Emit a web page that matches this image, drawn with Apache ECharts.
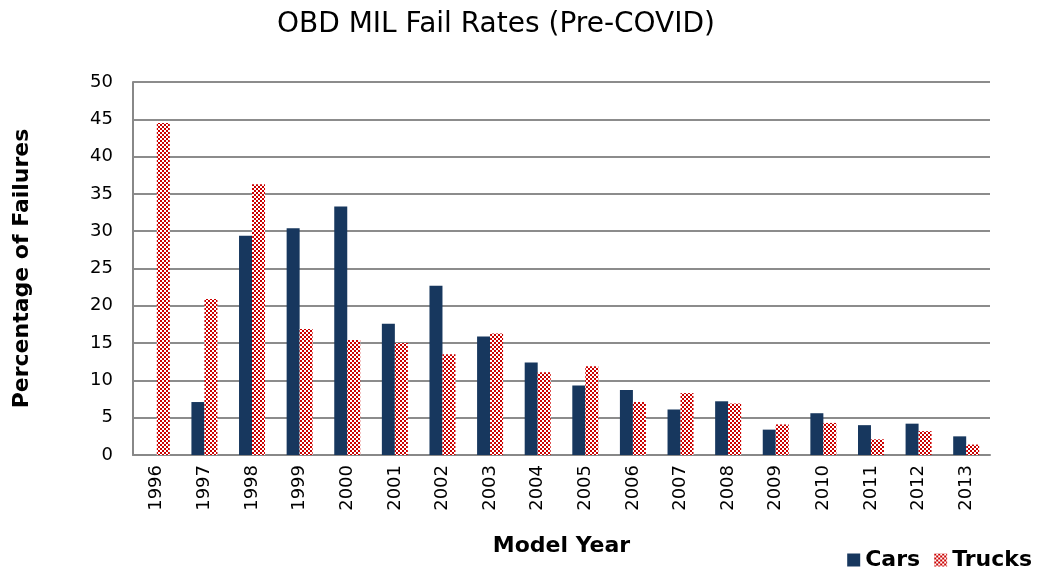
<!DOCTYPE html>
<html>
<head>
<meta charset="utf-8">
<script src="https://cdn.jsdelivr.net/npm/echarts@6/dist/echarts.min.js"></script>
<style>
  html, body { margin: 0; padding: 0; background: #fff; }
  #chart { width: 1041px; height: 577px; }
</style>
</head>
<body>
<div id="chart"></div>
<script>
// data
var years = ["1996", "1997", "1998", "1999", "2000", "2001", "2002", "2003", "2004",
             "2005", "2006", "2007", "2008", "2009", "2010", "2011", "2012", "2013"];
var cars = [0, 7.1, 29.4, 30.4, 33.3, 17.6, 22.7, 15.9, 12.4,
            9.3, 8.7, 6.1, 7.2, 3.4, 5.6, 4.0, 4.2, 2.5];
var trucks = [44.5, 20.9, 36.3, 16.9, 15.4, 15.0, 13.5, 16.3, 11.1,
              11.9, 7.1, 8.3, 6.9, 4.1, 4.3, 2.1, 3.2, 1.4];

var FONT = "DejaVu Sans";

// red / white checker for the trucks bars
var cv = document.createElement("canvas");
cv.width = 4;
cv.height = 4;
var ctx = cv.getContext("2d");
ctx.fillStyle = "#ffffff";
ctx.fillRect(0, 0, 4, 4);
ctx.fillStyle = "#cc0000";
ctx.fillRect(0, 0, 2, 2);
ctx.fillRect(2, 2, 2, 2);

var myChart = echarts.init(document.getElementById("chart"));
var option = {
    animation: false,
    title: {
        text: "OBD MIL Fail Rates (Pre-COVID)",
        left: 491,
        top: 6,
        textAlign: "center",
        textStyle: { fontFamily: FONT, fontSize: 28, fontWeight: "normal", color: "#000" },
    },
    legend: {
        data: ["Cars", "Trucks"],
        icon: "rect",
        right: 4,
        bottom: 1,
        itemWidth: 13,
        itemHeight: 13,
        itemGap: 14,
        textStyle: { fontFamily: FONT, fontSize: 22, fontWeight: "bold", color: "#000" },
    },
    grid: { left: 133, right: 51, top: 82, bottom: 122 },
    xAxis: {
        type: "category",
        data: years,
        name: "Model Year",
        nameLocation: "middle",
        nameGap: 80,
        nameTextStyle: { fontFamily: FONT, fontSize: 22, fontWeight: "bold", color: "#000" },
        axisLine: { lineStyle: { color: "#888", width: 2 } },
        axisTick: { show: false },
        axisLabel: { rotate: 90, fontFamily: FONT, fontSize: 18, color: "#000", margin: 10 },
    },
    yAxis: {
        type: "value",
        min: 0,
        max: 50,
        interval: 5,
        name: "Percentage of Failures",
        nameLocation: "middle",
        nameGap: 100,
        nameTextStyle: { fontFamily: FONT, fontSize: 22, fontWeight: "bold", color: "#000" },
        axisLine: { show: true, lineStyle: { color: "#888", width: 2 } },
        axisTick: { show: false },
        axisLabel: { fontFamily: FONT, fontSize: 18, color: "#000", margin: 20 },
        splitLine: { lineStyle: { color: "#8c8c8c", width: 2 } },
    },
    series: [
        {
            name: "Cars",
            type: "bar",
            data: cars,
            barWidth: 13,
            barGap: "0%",
            itemStyle: { color: "#17375e" },
        },
        {
            name: "Trucks",
            type: "bar",
            data: trucks,
            barWidth: 13,
            itemStyle: { color: { image: cv, repeat: "repeat" } },
        },
    ],
};

myChart.setOption(option);
</script>
</body>
</html>
